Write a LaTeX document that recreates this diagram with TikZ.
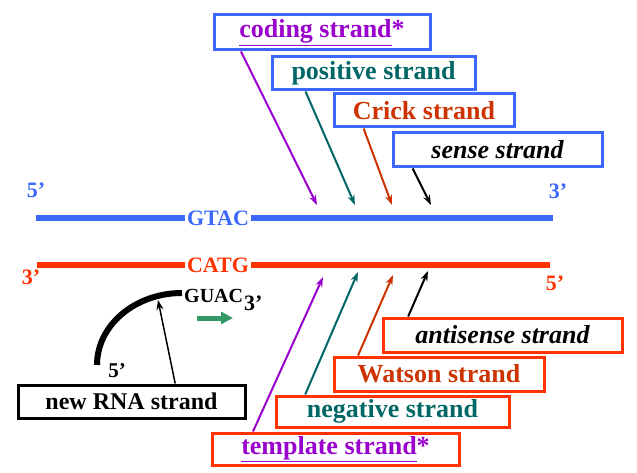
\documentclass[tikz,border=0pt]{standalone}
\usepackage{fontspec}
\setmainfont{Liberation Serif}
\usetikzlibrary{arrows.meta,calc}

\definecolor{dnablue}{RGB}{59,104,250}
\definecolor{dnared}{RGB}{255,51,0}
\definecolor{lilac}{RGB}{153,0,204}
\definecolor{tealish}{RGB}{0,102,102}
\definecolor{crickred}{RGB}{204,51,0}
\definecolor{rnagreen}{RGB}{51,153,102}

\tikzset{
  namebox/.style={draw, line width=3pt, inner sep=0pt, minimum height=33pt,
    font=\fontsize{26}{30}\selectfont\bfseries},
  upbox/.style={namebox, draw=dnablue},
  downbox/.style={namebox, draw=dnared},
  tag/.style={inner sep=2pt, font=\fontsize{22}{24}\selectfont\bfseries},
  ptr/.style={line width=2pt, -{Stealth[length=10pt,width=7pt]}},
  strandline/.style={line width=6pt},
}

\begin{document}
\begin{tikzpicture}[x=1pt,y=-1pt]
  \useasboundingbox (0,0) rectangle (637,473);

  % DNA strands
  \coordinate (bl) at (36,218);
  \coordinate (br) at (553,218);
  \coordinate (rl) at (37,265);
  \coordinate (rr) at (550,265);
  \node[tag, text=dnablue] (gtac) at (218,218) {GTAC};
  \node[tag, text=dnared] (catg) at (218,265) {CATG};
  \draw[strandline, dnablue] (bl) -- (gtac);
  \draw[strandline, dnablue] (gtac) -- (br);
  \draw[strandline, dnared] (rl) -- (catg);
  \draw[strandline, dnared] (catg) -- (rr);

  % ends
  \node[tag, text=dnablue] (b5) at (36,190) {5’};
  \node[tag, text=dnablue] (b3) at (558,191) {3’};
  \node[tag, text=dnared] (r3) at (31,277) {3’};
  \node[tag, text=dnared] (r5) at (555,283) {5’};

  % names of the upper strand
  \node[upbox, minimum width=216pt, minimum height=35pt, text=lilac] (coding) at (322,32.5) {\underline{coding strand}*};
  \node[upbox, minimum width=203pt, text=tealish] (positive) at (373.5,73.5) {positive strand};
  \node[upbox, minimum width=180pt, text=crickred] (crick) at (424,110.5) {Crick strand};
  \node[upbox, minimum width=209pt, minimum height=34pt, font=\fontsize{26}{30}\selectfont\bfseries\itshape] (sense) at (497.5,150) {sense strand};

  \coordinate (tc) at (317,205);
  \coordinate (tp) at (355,205);
  \coordinate (tk) at (392,205);
  \coordinate (ts) at (431,205);
  \draw[ptr, lilac] ($(coding.south west)!0.13!(coding.south east)$) -- (tc);
  \draw[ptr, tealish] ($(positive.south west)!0.17!(positive.south east)$) -- (tp);
  \draw[ptr, crickred] ($(crick.south west)!0.17!(crick.south east)$) -- (tk);
  \draw[ptr, black] ($(sense.south west)!0.10!(sense.south east)$) -- (ts);

  % names of the lower strand
  \node[downbox, minimum width=239pt, minimum height=34pt, font=\fontsize{26}{30}\selectfont\bfseries\itshape] (antisense) at (502.5,335) {antisense strand};
  \node[downbox, minimum width=210pt, minimum height=34pt, text=crickred] (watson) at (439,374) {Watson strand};
  \node[downbox, minimum width=233pt, minimum height=31pt, text=tealish] (negative) at (392.5,411.5) {negative strand};
  \node[downbox, minimum width=247pt, minimum height=32pt, text=lilac] (template) at (335.5,449) {\underline{template strand}*};

  \coordinate (bt) at (323,277);
  \coordinate (bn) at (358,272);
  \coordinate (bw) at (393,275);
  \coordinate (ba) at (428,271);
  \draw[ptr, lilac] ($(template.north west)!0.17!(template.north east)$) -- (bt);
  \draw[ptr, tealish] ($(negative.north west)!0.13!(negative.north east)$) -- (bn);
  \draw[ptr, crickred] ($(watson.north west)!0.12!(watson.north east)$) -- (bw);
  \draw[ptr, black] ($(antisense.north west)!0.11!(antisense.north east)$) -- (ba);

  % new RNA
  \coordinate (arcstart) at (97,365);
  \coordinate (arcpt) at (158,300);
  \draw[line width=6pt] (arcstart) arc[start angle=180, end angle=270, x radius=85, y radius=72];
  \node[anchor=base west, inner sep=0pt, font=\fontsize{20}{22}\selectfont\bfseries] (guac) at (184,302) {GUAC\hspace{1pt}\raisebox{-8pt}{\fontsize{22}{24}\selectfont 3’}};
  \node[font=\fontsize{21}{24}\selectfont\bfseries, inner sep=0pt] (rna5) at (117,371) {5’};
  \node[namebox, draw=black, minimum width=227pt, font=\fontsize{24}{28}\selectfont\bfseries] (rna) at (131.5,401.5) {new RNA strand};
  \draw[ptr, line width=1.5pt] ($(rna.north west)!0.69!(rna.north east)$) -- (arcpt);

  % direction
  \coordinate (go) at (197,318);
  \coordinate (gt) at (233,318);
  \draw[rnagreen, line width=5pt, -{Triangle[length=12pt,width=12pt]}] (go) -- (gt);
\end{tikzpicture}
\end{document}
